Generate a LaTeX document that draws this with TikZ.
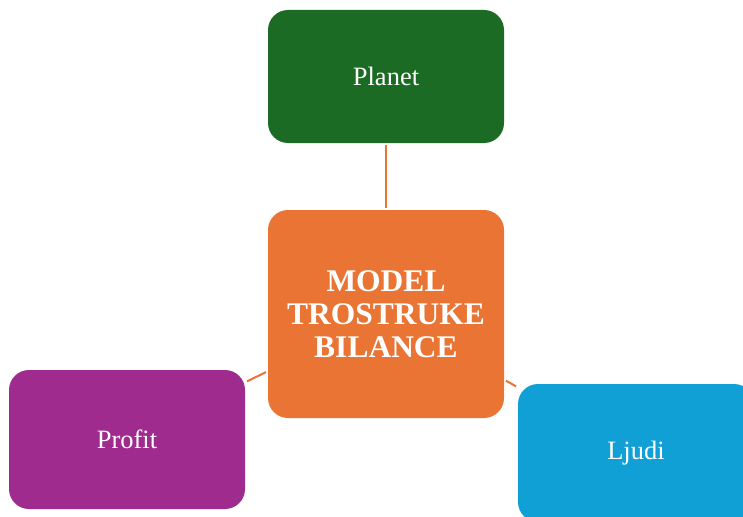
\documentclass[tikz,border=0pt]{standalone}
\usepackage{fontspec}
\setmainfont{Liberation Serif}
\usepackage{tikz}
\usetikzlibrary{shapes,arrows}
\definecolor{planetgreen}{HTML}{1C6B25}
\definecolor{modelorange}{HTML}{E97434}
\definecolor{profitpurple}{HTML}{9F2B8E}
\definecolor{ljudiblue}{HTML}{10A0D6}
\tikzstyle{line} = [draw=modelorange, line width=2pt, shorten <=2pt, shorten >=2pt]
\tikzstyle{pillar} = [rectangle, rounded corners=20pt, inner sep=0pt, minimum width=236pt, text=white, text centered, font=\fontsize{26.5}{30}\selectfont]
\tikzstyle{model} = [pillar, fill=modelorange, minimum height=208pt, text width=226pt, font=\fontsize{31.5}{33}\selectfont\bfseries]

\begin{document}
\begin{tikzpicture}[x=1pt, y=-1pt]
				\useasboundingbox (0,0) rectangle (743,516);
				\clip (0,0) rectangle (743,516);
				% Place nodes
				\node [model] (model) at (386,314) {MODEL\\TROSTRUKE\\BILANCE};
				\node [pillar, fill=planetgreen, minimum height=133pt] (planet) at (386,76.5) {Planet};
				\node [pillar, fill=profitpurple, minimum height=139pt] (profit) at (127,439.5) {Profit};
				\node [pillar, fill=ljudiblue, minimum height=138pt] (ljudi) at (636,453) {Ljudi};
				% Draw edges
				\path [line] (model) -- (planet);
				\path [line] (model) -- (profit);
				\path [line] (model) -- (ljudi);
\end{tikzpicture}
\end{document}
